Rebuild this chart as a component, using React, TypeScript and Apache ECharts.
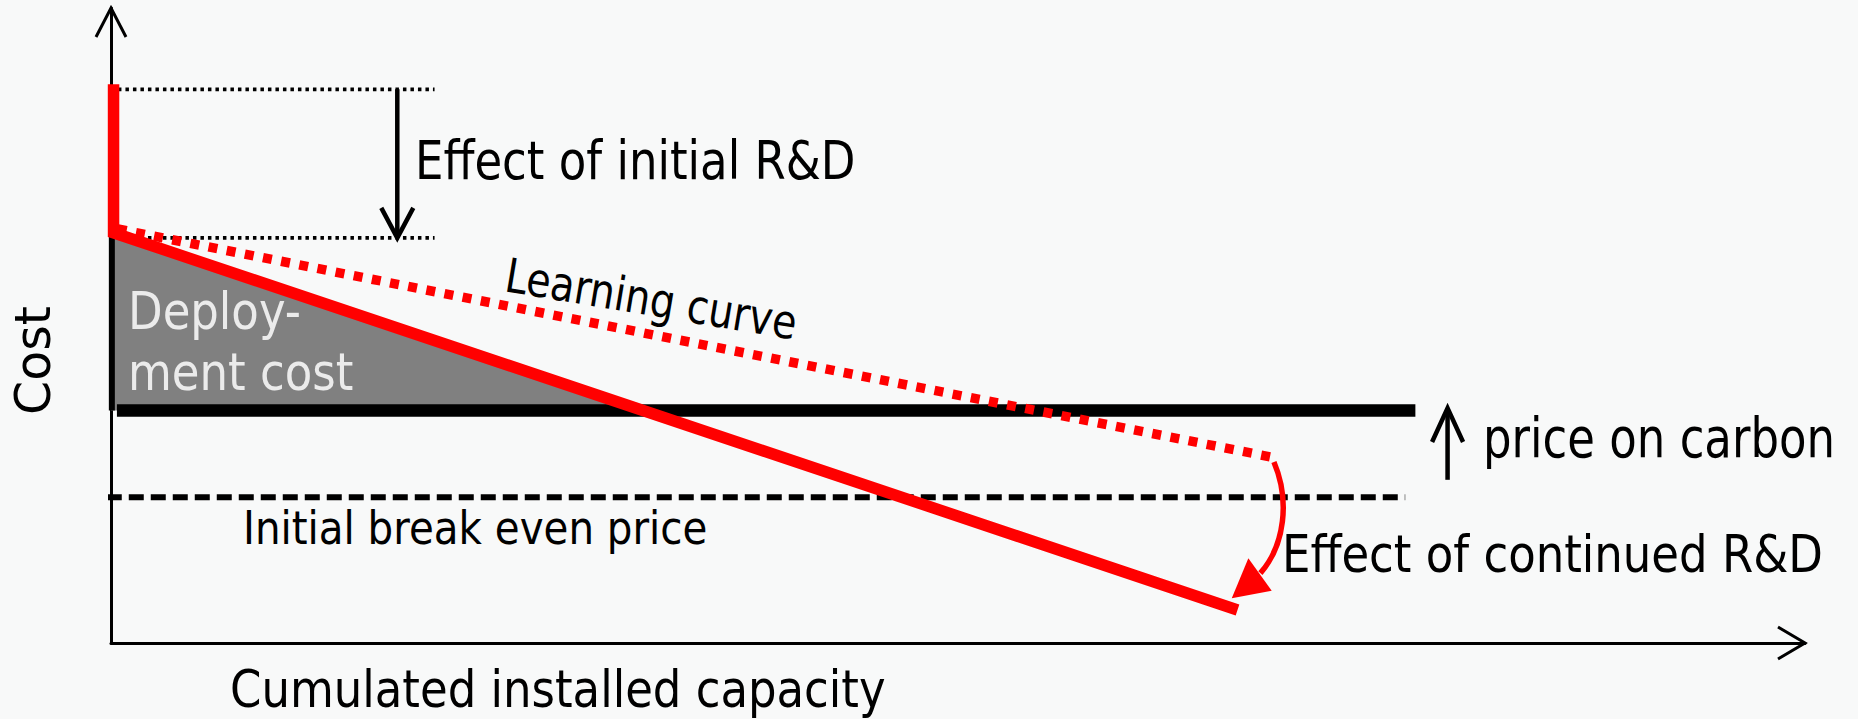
import React, { useEffect, useRef } from "react";
import * as echarts from "echarts";

// ---- axis ranges (abstract units) ----
const X_MIN = 0;
const X_MAX = 100;
const Y_MIN = 0;
const Y_MAX = 100;

// ---- series values (data units) ----
// solid red: initial cost -> after initial R&D -> after continued R&D
const deployX = [0.15, 0.15, 66.5];
const deployY = [88.0, 64.6, 5.2];
// dotted red learning curve
const learningX = [0.4, 68.65];
const learningY = [65.2, 29.2];
// price on carbon (thick black)
const carbonX = [0.35, 77.0];
const carbonY = [36.6, 36.6];
// initial break even price (dashed black)
const breakEvenX = [-0.25, 76.4];
const breakEvenY = [22.95, 22.95];
// dotted guides for "Effect of initial R&D"
const guideX = [0.41, 19.1];
const guideTopY = [87.2, 87.2];
const guideBottomY = [63.8, 63.8];

// ---- annotation anchors (data units) ----
const initialRDArrowX = 16.9;
const carbonArrowX = 78.9;
const carbonArrowY = [25.7, 37.0];
const curveStart = [68.65, 28.5];
const curveCp1 = [69.6, 22.5];
const curveCp2 = [69.3, 15.4];
const curveEnd = [67.85, 11.0];
const headTip = [66.16, 7.04];
const headA = [67.14, 13.34];
const headB = [68.52, 8.24];

const FONT = "DejaVu Sans";

const pairs = (xs: number[], ys: number[]) => xs.map((x, i) => [x, ys[i]]);

export default function App() {
  const ref = useRef<HTMLDivElement>(null);

  useEffect(() => {
    const el = ref.current!;
    const chart = echarts.init(el, null, { renderer: "svg" });

    const deployPts = pairs(deployX, deployY);
    // gray deployment-cost triangle: between y axis, red line and carbon price
    const [p1, p2] = [deployPts[1], deployPts[2]];
    const cy = carbonY[0];
    const xInt = p1[0] + ((p1[1] - cy) / (p1[1] - p2[1])) * (p2[0] - p1[0]);
    const triangle = [
      [0, p1[1]],
      [0, cy],
      [xInt, cy],
    ];

    const lineBase = {
      type: "line",
      symbol: "none",
      silent: true,
      animation: false,
    };

    chart.setOption({
      animation: false,
      backgroundColor: "#f8f9f9",
      grid: { left: 111, right: 53, top: 8, bottom: 76, containLabel: false },
      xAxis: {
        type: "value",
        min: X_MIN,
        max: X_MAX,
        axisLine: { show: true, onZero: false, lineStyle: { color: "#000", width: 3 } },
        axisTick: { show: false },
        axisLabel: { show: false },
        splitLine: { show: false },
      },
      yAxis: {
        type: "value",
        min: Y_MIN,
        max: Y_MAX,
        axisLine: { show: true, onZero: false, lineStyle: { color: "#000", width: 3 } },
        axisTick: { show: false },
        axisLabel: { show: false },
        splitLine: { show: false },
      },
      series: [
        {
          type: "custom",
          name: "Deployment cost",
          silent: true,
          data: [[0, 0]],
          z: 1,
          renderItem: (params: any, api: any) => {
            if (params.dataIndex !== 0) return null;
            const pts = triangle.map((p) => api.coord(p));
            const top = api.coord([0.05, p1[1]]);
            const bot = api.coord([0.05, cy]);
            return {
              type: "group",
              children: [
                { type: "polygon", shape: { points: pts }, style: { fill: "#808080" } },
                {
                  type: "line",
                  shape: { x1: top[0], y1: top[1], x2: bot[0], y2: bot[1] },
                  style: { stroke: "#000", lineWidth: 6 },
                },
              ],
            };
          },
        },
        {
          ...lineBase,
          name: "Initial break even price",
          clip: false,
          data: pairs(breakEvenX, breakEvenY),
          lineStyle: { color: "#000", width: 6, type: [15, 7] },
        },
        {
          ...lineBase,
          name: "Price on carbon",
          data: pairs(carbonX, carbonY),
          lineStyle: { color: "#000", width: 12.5 },
        },
        {
          ...lineBase,
          name: "Guide top",
          data: pairs(guideX, guideTopY),
          lineStyle: { color: "#000", width: 3.8, type: [3.5, 4] },
        },
        {
          ...lineBase,
          name: "Guide bottom",
          data: pairs(guideX, guideBottomY),
          lineStyle: { color: "#000", width: 3.8, type: [3.5, 4] },
        },
        {
          ...lineBase,
          name: "Learning curve",
          data: pairs(learningX, learningY),
          lineStyle: { color: "#ff0000", width: 9.5, type: [9, 9.5] },
        },
        {
          ...lineBase,
          name: "Cost with R&D",
          data: deployPts,
          lineStyle: { color: "#ff0000", width: 11.5, join: "miter", cap: "butt" },
        },
      ],
    });

    const px = (p: number[]) => chart.convertToPixel({ gridIndex: 0 }, p) as number[];

    const chevron = (tip: number[], tail: number[], len: number, half: number, width: number) => {
      const dx = tail[0] - tip[0];
      const dy = tail[1] - tip[1];
      const d = Math.hypot(dx, dy) || 1;
      const ux = dx / d;
      const uy = dy / d;
      const nx = -uy;
      const ny = ux;
      return {
        type: "polyline",
        z: 100,
        silent: true,
        shape: {
          points: [
            [tip[0] + ux * len + nx * half, tip[1] + uy * len + ny * half],
            tip,
            [tip[0] + ux * len - nx * half, tip[1] + uy * len - ny * half],
          ],
        },
        style: { stroke: "#000", lineWidth: width, fill: "none" },
      };
    };

    const shaft = (a: number[], b: number[], color: string, width: number) => ({
      type: "line",
      z: 100,
      silent: true,
      shape: { x1: a[0], y1: a[1], x2: b[0], y2: b[1] },
      style: { stroke: color, lineWidth: width },
    });

    const text = (
      s: string,
      x: number,
      y: number,
      size: number,
      sy: number,
      fill = "#000",
      rotation = 0
    ) => ({
      type: "text",
      z: 100,
      silent: true,
      x,
      y,
      rotation,
      scaleY: sy,
      style: {
        text: s,
        fill,
        fontSize: size,
        fontFamily: FONT,
        align: "left",
        verticalAlign: "middle",
      },
    });

    // axis arrows
    const yTip = px([X_MIN, Y_MAX]);
    const yTail = px([X_MIN, Y_MIN]);
    const xTip = px([X_MAX, Y_MIN]);
    const xTail = px([X_MIN, Y_MIN]);

    // initial R&D arrow
    const rdTop = px([initialRDArrowX, guideTopY[0]]);
    const rdBot = px([initialRDArrowX, guideBottomY[0]]);
    // carbon arrow
    const cBot = px([carbonArrowX, carbonArrowY[0]]);
    const cTop = px([carbonArrowX, carbonArrowY[1]]);
    // curved red arrow
    const s = px(curveStart);
    const c1 = px(curveCp1);
    const c2 = px(curveCp2);
    const e = px(curveEnd);

    const elements: any[] = [
      chevron(yTip, yTail, 29, 15, 3),
      chevron(xTip, xTail, 27, 16, 3),
      shaft(rdTop, rdBot, "#000", 4.5),
      chevron(rdBot, rdTop, 30, 16, 4.5),
      shaft(cBot, cTop, "#000", 4.5),
      chevron(cTop, cBot, 34, 15.5, 4.5),
      {
        type: "bezierCurve",
        z: 100,
        silent: true,
        shape: {
          x1: s[0],
          y1: s[1],
          cpx1: c1[0],
          cpy1: c1[1],
          cpx2: c2[0],
          cpy2: c2[1],
          x2: e[0],
          y2: e[1],
        },
        style: { stroke: "#ff0000", lineWidth: 5.5, fill: "none" },
      },
      {
        type: "polygon",
        z: 100,
        silent: true,
        shape: { points: [px(headTip), px(headA), px(headB)] },
        style: { fill: "#ff0000" },
      },
      text("Effect of initial R&D", 415, 161, 45, 1.19),
      text("Learning curve", 506, 275, 39.5, 1.2, "#000", -0.166),
      text("Deploy-", 128, 311, 45, 1.16, "#ebebeb"),
      text("ment cost", 128, 372, 45, 1.16, "#ebebeb"),
      text("price on carbon", 1483, 438, 45, 1.22),
      text("Initial break even price", 243, 528, 40.4, 1.13),
      text("Effect of continued R&D", 1282, 554, 45, 1.16),
      text("Cumulated installed capacity", 230, 689, 45, 1.16),
      text("Cost", 33, 415, 49, 1.0, "#000", Math.PI / 2),
    ];

    chart.setOption({ graphic: { elements } });

    return () => chart.dispose();
  }, []);

  return (
    <div
      ref={ref}
      style={{ position: "fixed", left: 0, top: 0, width: "1858px", height: "719px" }}
    />
  );
}
